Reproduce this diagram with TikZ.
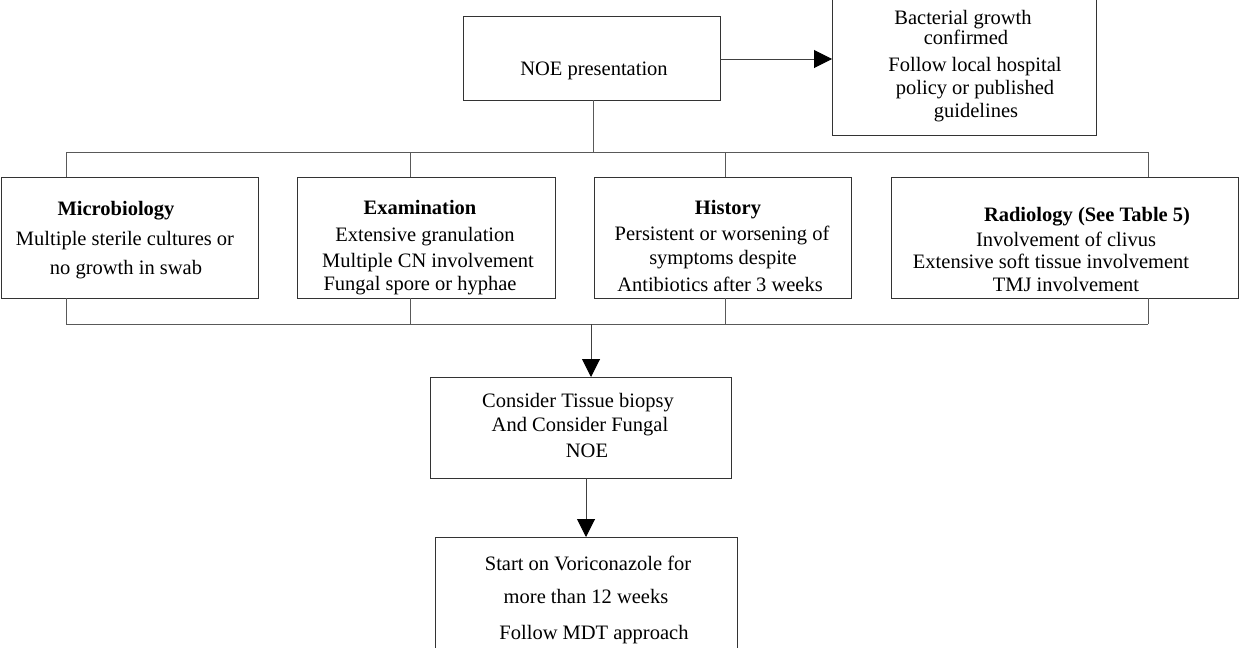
\documentclass[tikz,border=0pt]{standalone}
\usepackage{fontspec}
\setmainfont{Liberation Serif}
\usetikzlibrary{arrows.meta}
\tikzset{
  box/.style={draw=black!80, line width=1pt, fill=none, rectangle},
  ln/.style={draw=black!65, line width=1pt},
  arr/.style={draw=black!75, line width=1pt, -{Triangle[length=18pt,width=18pt,color=black]}},
  tx/.style={anchor=base, inner sep=0pt, font=\fontsize{20.5}{24}\selectfont},
}
\begin{document}
\begin{tikzpicture}[x=1pt,y=-1pt]
\useasboundingbox (0,0) rectangle (1240,648);
% boxes
\draw[box] (463,16) rectangle (720,100); \coordinate (noe) at (593,100);
\coordinate (noeR) at (720,59);
\draw[box] (832,-5) rectangle (1096,135); \coordinate (bacL) at (832,59);
\draw[box] (1,177) rectangle (258,298);
\draw[box] (297,177) rectangle (555,298);
\draw[box] (594,177) rectangle (851,298);
\draw[box] (891,177) rectangle (1238,298);
\draw[box] (430,377) rectangle (731,478);
\draw[box] (435,537) rectangle (737,660);
% coordinates
\coordinate (t1) at (66,152); \coordinate (t2) at (410,152);
\coordinate (t3) at (725,152); \coordinate (t4) at (1148,152);
\coordinate (noeJ) at (593,152);
\coordinate (b1) at (66,324); \coordinate (b2) at (410,324);
\coordinate (b3) at (725,324); \coordinate (b4) at (1148,324);
\coordinate (bJ) at (591,324);
\coordinate (conT) at (591,377);
\coordinate (conB) at (586,478);
\coordinate (staT) at (586,537);
% connectors
\draw[arr] (noeR) -- (bacL);
\draw[ln] (noe) -- (noeJ);
\draw[ln] (t1) -- (t4);
\draw[ln] (t1) -- (66,177);
\draw[ln] (t2) -- (410,177);
\draw[ln] (t3) -- (725,177);
\draw[ln] (t4) -- (1148,177);
\draw[ln] (66,298) -- (b1);
\draw[ln] (410,298) -- (b2);
\draw[ln] (725,298) -- (b3);
\draw[ln] (1148,298) -- (b4);
\draw[ln] (b1) -- (b4);
\draw[arr] (bJ) -- (conT);
\draw[arr] (conB) -- (staT);
% texts
\node[tx] (noeT) at (594,75) {NOE presentation};
\node[tx] (bac1) at (963,24) {Bacterial growth};
\node[tx] (bac2) at (966,44) {confirmed};
\node[tx] (bac3) at (975,71) {Follow local hospital};
\node[tx] (bac4) at (975,94) {policy or published};
\node[tx] (bac5) at (976,117) {guidelines};
\node[tx] (mic1) at (116,215) {\textbf{Microbiology}};
\node[tx] (mic2) at (125,245) {Multiple sterile cultures or};
\node[tx] (mic3) at (126,274) {no growth in swab};
\node[tx] (exa1) at (420,214) {\textbf{Examination}};
\node[tx] (exa2) at (425,241) {Extensive granulation};
\node[tx] (exa3) at (428,267) {Multiple CN involvement};
\node[tx] (exa4) at (420,290) {Fungal spore or hyphae};
\node[tx] (his1) at (728,214) {\textbf{History}};
\node[tx] (his2) at (722,240) {Persistent or worsening of};
\node[tx] (his3) at (723,264) {symptoms despite};
\node[tx] (his4) at (720,291) {Antibiotics after 3 weeks};
\node[tx] (rad1) at (1087,221) {\textbf{Radiology (See Table 5)}};
\node[tx] (rad2) at (1066,246) {Involvement of clivus};
\node[tx] (rad3) at (1051,268) {Extensive soft tissue involvement};
\node[tx] (rad4) at (1066,291) {TMJ involvement};
\node[tx] (con1) at (578,407) {Consider Tissue biopsy};
\node[tx] (con2) at (580,431) {And Consider Fungal};
\node[tx] (con3) at (587,457) {NOE};
\node[tx] (sta1) at (588,570) {Start on Voriconazole for};
\node[tx] (sta2) at (586,603) {more than 12 weeks};
\node[tx] (sta3) at (594,639) {Follow MDT approach};
\end{tikzpicture}
\end{document}
